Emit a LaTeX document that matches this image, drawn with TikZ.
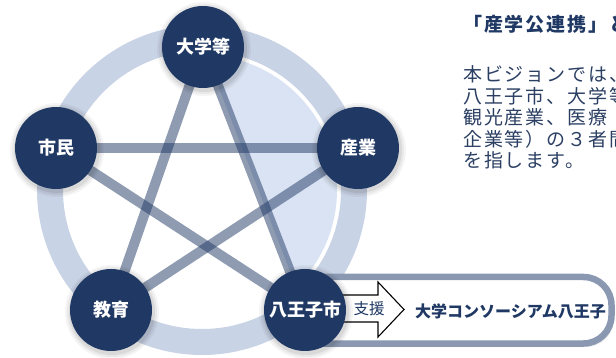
\documentclass[tikz,border=0pt]{standalone}
\usepackage{fontspec}
\newfontfamily\jp{Noto Sans CJK JP}
\newfontfamily\jptitle{Noto Sans CJK JP}[LetterSpace=10]
\newfontfamily\jppara{Noto Sans CJK JP}[LetterSpace=10]
\usetikzlibrary{calc}
\definecolor{navy}{HTML}{1F3864}
\definecolor{ringc}{HTML}{C8D3E5}
\definecolor{fillc}{HTML}{DAE3F3}
\definecolor{boxc}{HTML}{8A98B2}
\definecolor{txtc}{HTML}{2B3F63}
\pgfdeclarelayer{bg}
\pgfdeclarelayer{mid}
\pgfsetlayers{bg,mid,main}
\begin{document}
\begin{tikzpicture}[x=1pt,y=-1pt,
  hub/.style={circle,fill=navy,minimum size=82pt,inner sep=0pt,text=white,
    font=\jp\bfseries\fontsize{18}{18}\selectfont},
  link/.style={line width=10pt,draw=navy,draw opacity=0.5},
  para/.style={anchor=base west,inner sep=0pt,text=txtc,font=\jppara\fontsize{19}{19}\selectfont},
]
\useasboundingbox (0,0) rectangle (616,358);
\clip (0,0) rectangle (616,358);
\coordinate (O) at (202,190);
% hubs
\node[hub] (U) at (203,47) {大学等};
\node[hub] (C) at (56,148) {市民};
\node[hub] (I) at (358,148) {産業};
\node[hub] (E) at (111,310) {教育};
\node[hub] (H) at (305,310) {八王子市};
\begin{pgfonlayer}{mid}
  \foreach \p in {U,C,I,E,H}{
    \foreach \r/\o in {47/0.04,45/0.05,43/0.07}{
      \fill[black,opacity=\o] ($(\p.center)+(1,2)$) circle (\r);
    }
  }
\end{pgfonlayer}
\begin{pgfonlayer}{bg}
  % ring
  \draw[ringc,line width=26pt] (O) circle (152);
  % highlighted segment
  \begin{scope}
    \clip ($(U.center)!-0.25!(H.center)$) -- ($(H.center)!-0.25!(U.center)$) -- (640,380) -- (640,-20) -- cycle;
    \fill[fillc] (O) circle (135);
  \end{scope}
  % star links
  \draw[link] (U.center) -- (E.center);
  \draw[link] (U.center) -- (H.center);
  \draw[link] (C.center) -- (I.center);
  \draw[link] (C.center) -- (H.center);
  \draw[link] (I.center) -- (E.center);
  % consortium box
  \fill[black,opacity=0.08,rounded corners=28pt] (292,280) rectangle (614,347);
  \draw[boxc,line width=6.5pt,fill=white,rounded corners=28pt] (290,277) rectangle (611.5,343.5);
  % support arrow
  \draw[black,line width=1.1pt,fill=white,line join=miter]
    (330,295) -- (378,295) -- (378,282) -- (404,309.5) -- (378,337) -- (378,322) -- (330,322) -- cycle;
\end{pgfonlayer}
\node[text=navy,inner sep=0pt,font=\jp\fontsize{15.5}{15.5}\selectfont] (sien) at (369,309) {支援};
\node[anchor=west,inner sep=0pt,text=navy,font=\jp\bfseries\fontsize{16}{16}\selectfont] (cons) at (415,311) {大学コンソーシアム八王子};
% right text
\node[anchor=base west,inner sep=0pt,text=navy,font=\jptitle\bfseries\fontsize{19}{19}\selectfont] (title) at (463,32) {「産学公連携」と};
\node[para] (l1) at (463,82) {本ビジョンでは、};
\node[para] (l2) at (463,103.5) {八王子市、大学等};
\node[para] (l3) at (463,125) {観光産業、医療};
\node[para] (l4) at (463,146.5) {企業等）の３者間};
\node[para] (l5) at (463,168) {を指します。};
\end{tikzpicture}
\end{document}
